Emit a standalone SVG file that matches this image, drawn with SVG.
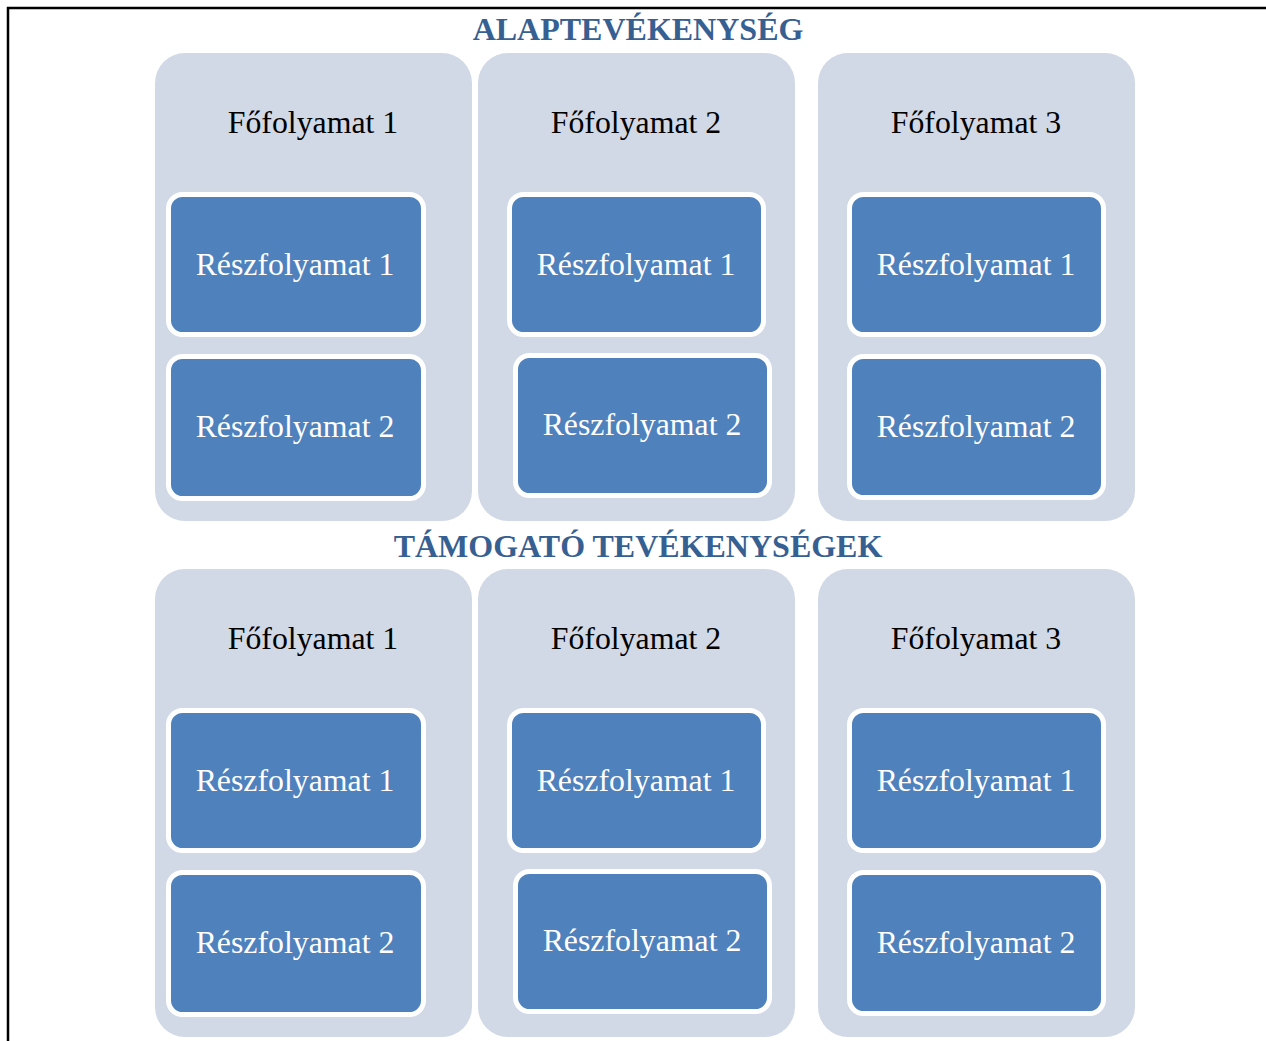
<svg xmlns="http://www.w3.org/2000/svg" width="1266" height="1041" viewBox="0 0 1266 1041">
  <style>
    .title { font-family: "Liberation Serif", "Times New Roman", serif; font-weight: bold; font-size: 32px; fill: #376092; text-anchor: middle; }
    .main { fill: #D1D8E6; }
    .mainlabel { font-family: "Liberation Serif", "Times New Roman", serif; font-size: 31.8px; fill: #000; text-anchor: middle; }
    .sub { fill: #4F81BD; stroke: #FFFFFF; stroke-width: 5; }
    .sublabel { font-family: "Liberation Serif", "Times New Roman", serif; font-size: 31.8px; fill: #FFFFFF; text-anchor: middle; }
  </style>
  <rect width="1266" height="1041" fill="#FFFFFF"/>
  <!-- page frame -->
  <path d="M8,1041 V8 H1266" fill="none" stroke="#000" stroke-width="2.5"/>

  <!-- core activities -->
  <text class="title" x="638" y="40">ALAPTEVÉKENYSÉG</text>
  <g id="core-main-1">
    <rect class="main" x="155" y="53" width="317" height="468" rx="30"/>
    <text class="mainlabel" x="313" y="133">Főfolyamat 1</text>
  </g>
  <g id="core-main-1-sub-1">
    <rect class="sub" x="168.5" y="194.5" width="255" height="140" rx="14"/>
    <text class="sublabel" x="295" y="275">Részfolyamat 1</text>
  </g>
  <g id="core-main-1-sub-2">
    <rect class="sub" x="168.5" y="356.5" width="255" height="142" rx="14"/>
    <text class="sublabel" x="295" y="437">Részfolyamat 2</text>
  </g>
  <g id="core-main-2">
    <rect class="main" x="478" y="53" width="317" height="468" rx="30"/>
    <text class="mainlabel" x="636" y="133">Főfolyamat 2</text>
  </g>
  <g id="core-main-2-sub-1">
    <rect class="sub" x="509.5" y="194.5" width="254" height="140" rx="14"/>
    <text class="sublabel" x="636" y="275">Részfolyamat 1</text>
  </g>
  <g id="core-main-2-sub-2">
    <rect class="sub" x="515.5" y="355.5" width="254" height="140" rx="14"/>
    <text class="sublabel" x="642" y="435">Részfolyamat 2</text>
  </g>
  <g id="core-main-3">
    <rect class="main" x="818" y="53" width="317" height="468" rx="30"/>
    <text class="mainlabel" x="976" y="133">Főfolyamat 3</text>
  </g>
  <g id="core-main-3-sub-1">
    <rect class="sub" x="849.5" y="194.5" width="254" height="140" rx="14"/>
    <text class="sublabel" x="976" y="275">Részfolyamat 1</text>
  </g>
  <g id="core-main-3-sub-2">
    <rect class="sub" x="849.5" y="356.5" width="254" height="141" rx="14"/>
    <text class="sublabel" x="976" y="437">Részfolyamat 2</text>
  </g>

  <!-- supporting activities -->
  <text class="title" x="638" y="557">TÁMOGATÓ TEVÉKENYSÉGEK</text>
  <g id="support-main-1">
    <rect class="main" x="155" y="569" width="317" height="468" rx="30"/>
    <text class="mainlabel" x="313" y="649">Főfolyamat 1</text>
  </g>
  <g id="support-main-1-sub-1">
    <rect class="sub" x="168.5" y="710.5" width="255" height="140" rx="14"/>
    <text class="sublabel" x="295" y="791">Részfolyamat 1</text>
  </g>
  <g id="support-main-1-sub-2">
    <rect class="sub" x="168.5" y="872.5" width="255" height="142" rx="14"/>
    <text class="sublabel" x="295" y="953">Részfolyamat 2</text>
  </g>
  <g id="support-main-2">
    <rect class="main" x="478" y="569" width="317" height="468" rx="30"/>
    <text class="mainlabel" x="636" y="649">Főfolyamat 2</text>
  </g>
  <g id="support-main-2-sub-1">
    <rect class="sub" x="509.5" y="710.5" width="254" height="140" rx="14"/>
    <text class="sublabel" x="636" y="791">Részfolyamat 1</text>
  </g>
  <g id="support-main-2-sub-2">
    <rect class="sub" x="515.5" y="871.5" width="254" height="140" rx="14"/>
    <text class="sublabel" x="642" y="951">Részfolyamat 2</text>
  </g>
  <g id="support-main-3">
    <rect class="main" x="818" y="569" width="317" height="468" rx="30"/>
    <text class="mainlabel" x="976" y="649">Főfolyamat 3</text>
  </g>
  <g id="support-main-3-sub-1">
    <rect class="sub" x="849.5" y="710.5" width="254" height="140" rx="14"/>
    <text class="sublabel" x="976" y="791">Részfolyamat 1</text>
  </g>
  <g id="support-main-3-sub-2">
    <rect class="sub" x="849.5" y="872.5" width="254" height="141" rx="14"/>
    <text class="sublabel" x="976" y="953">Részfolyamat 2</text>
  </g>

  <!-- no connectors in this layout -->
  <g id="connectors"/>
</svg>
